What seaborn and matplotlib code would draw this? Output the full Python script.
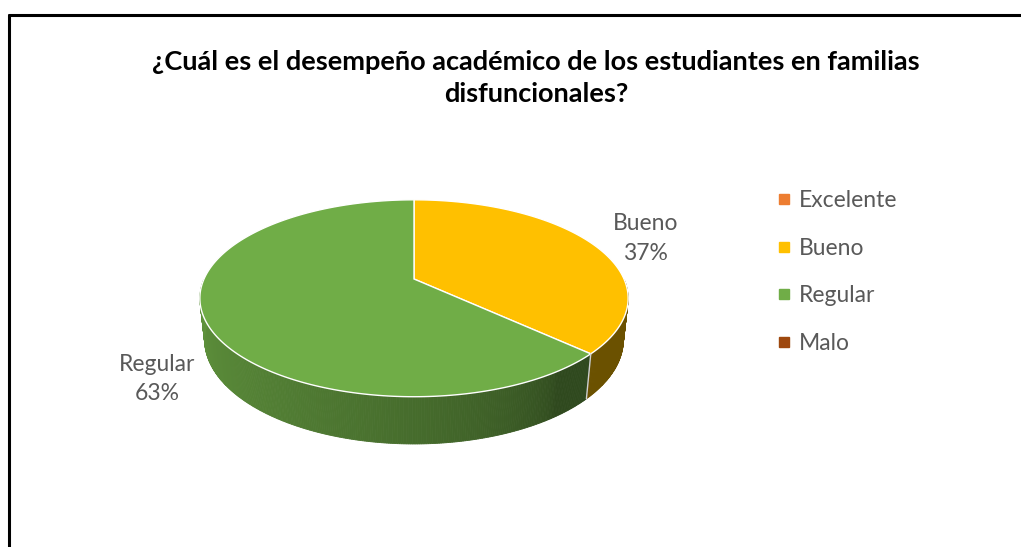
import numpy as np
import matplotlib
matplotlib.use('Agg')
import matplotlib.pyplot as plt
from matplotlib.lines import Line2D
import seaborn as sns

# data
categories = ['Excelente', 'Bueno', 'Regular', 'Malo']
percentages = [0, 37, 63, 0]
colors = ['#ED7D31', '#FFC000', '#70AD47', '#9E480E']
title = '¿Cuál es el desempeño académico de los estudiantes en familias\ndisfuncionales?'

sns.set_theme(style='white')
plt.rcParams['font.family'] = ['Lato', 'DejaVu Sans']

W, H = 1021, 547
fig = plt.figure(figsize=(W / 100, H / 100), dpi=100)

# pie geometry (pixels / perspective settings)
cx, cy, scale = 414, 279, 210
elev = np.radians(26.8)
dist = 4.56
depth = 0.222

ax = fig.add_axes([0, 0, 1, 1])
ax.set_xlim(-cx / scale, (W - cx) / scale)
ax.set_ylim(-(H - cy) / scale, cy / scale)
ax.axis('off')


def project(t, r=1.0, h=0.0):
    x = r * np.cos(t)
    y = r * np.sin(t)
    up = y * np.sin(elev) + h * np.cos(elev)
    fwd = dist + y * np.cos(elev) - h * np.sin(elev)
    return x * dist / fwd, up * dist / fwd


def shade(t):
    deg = np.degrees(np.arctan2(np.sin(t), np.cos(t)))
    u = np.clip((-55 - deg) / 125, 0, 1)
    return 0.42 + 0.44 * u ** 0.6


vals = np.array(percentages, dtype=float)
ends = np.radians(90 - 360 * np.cumsum(vals) / vals.sum())
starts = np.concatenate([[np.radians(90)], ends[:-1]])

# sides first
for a0, a1, v, c in zip(starts, ends, vals, colors):
    if v == 0:
        continue
    t = np.linspace(a0, a1, int(abs(np.degrees(a1 - a0))) * 2 + 2)
    t = t[np.sin(t) <= 1e-9]
    if len(t) < 2:
        continue
    base = np.array(matplotlib.colors.to_rgb(c))
    for k in range(len(t) - 1):
        xs0, ys0 = project(t[k])
        xs1, ys1 = project(t[k + 1])
        xb1, yb1 = project(t[k + 1], h=-depth)
        xb0, yb0 = project(t[k], h=-depth)
        col = base * shade(0.5 * (t[k] + t[k + 1]))
        ax.fill([xs0, xs1, xb1, xb0], [ys0, ys1, yb1, yb0],
                color=col, lw=0.6, ec=col)

# side edges at wedge boundaries
for a in ends[vals > 0]:
    if np.sin(a) < 0:
        x0, y0 = project(a)
        x1, y1 = project(a, h=-depth)
        ax.plot([x0, x1], [y0, y1], color='#d0d0d0', lw=1)

# top faces
for a0, a1, v, c in zip(starts, ends, vals, colors):
    if v == 0:
        continue
    t = np.linspace(a0, a1, 200)
    px, py = project(t)
    ax.fill(np.concatenate([[0], px]), np.concatenate([[0], py]),
            color=c, ec='white', lw=1.0)

# data labels
for a0, a1, v, name in zip(starts, ends, vals, categories):
    if v == 0:
        continue
    tm = 0.5 * (a0 + a1)
    h = 0.0 if np.sin(tm) >= 0 else -depth
    lx, ly = project(tm, r=1.27, h=h)
    ax.text(lx + 0.04, ly - 0.015, f'{name}\n{v:.0f}%', ha='center',
            va='center', fontsize=16.5, color='#595959', linespacing=1.5)

fig.text(536 / W, 1 - 78 / H, title, ha='center', va='center',
         fontsize=19.5, fontweight='bold', color='black', linespacing=1.45)

handles = [Line2D([], [], marker='s', ls='none', markersize=7.5,
                  markerfacecolor=c, markeredgecolor=c) for c in colors]
fig.legend(handles, categories, loc='upper left',
           bbox_to_anchor=(775 / W, 1 - 190 / H), frameon=False,
           fontsize=16.5, labelcolor='#595959', handlelength=0.8,
           handletextpad=0.26, labelspacing=1.16, borderpad=0,
           borderaxespad=0)

# chart border (left and top edges visible)
fig.add_artist(Line2D([9 / W, 9 / W], [0, 1 - 15 / H], color='black',
                      lw=2.2, transform=fig.transFigure))
fig.add_artist(Line2D([9 / W, 1], [1 - 15 / H, 1 - 15 / H], color='black',
                      lw=2.2, transform=fig.transFigure))

fig.savefig('out.png', dpi=100)
